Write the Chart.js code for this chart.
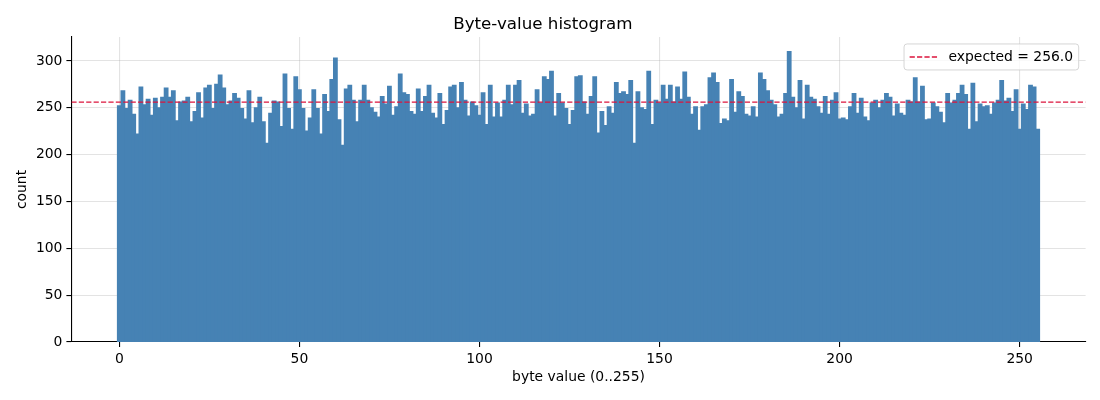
<!DOCTYPE html>
<html>
<head>
<meta charset="utf-8">
<script src="https://cdn.jsdelivr.net/npm/chart.js@4.4.1/dist/chart.umd.min.js"></script>
<style>
  html, body { margin: 0; padding: 0; background: #fff; }
  #c { display: block; }
</style>
</head>
<body>
<canvas id="c" width="1100" height="400"></canvas>
<script>
// ---- data ----
const chartTitle = "Byte-value histogram";
const xAxisTitle = "byte value (0..255)";
const yAxisTitle = "count";
const expectedLabel = "expected = 256.0";
const expectedValue = 256.0;

const byteValues = [];
for (let b = 0; b < 256; b++) byteValues.push(b);

const counts = [
  252,268,249,258,243,222,272,253,259,242,260,250,261,271,261,268,
  236,256,257,261,235,246,266,239,271,274,249,275,285,271,253,257,
  265,260,249,238,268,234,250,261,235,212,244,257,256,230,286,249,
  227,283,269,249,225,239,269,249,222,264,246,280,303,237,210,270,
  274,258,235,258,274,258,250,245,240,262,254,273,242,251,286,266,
  264,246,243,270,246,262,274,244,239,265,232,247,272,274,250,277,
  258,241,256,252,242,266,232,274,240,255,240,258,274,253,274,279,
  244,254,241,243,269,255,283,280,289,241,265,255,249,232,247,283,
  284,256,243,262,283,223,246,231,251,244,277,265,267,264,279,212,
  267,250,248,289,232,258,255,274,259,274,256,272,259,288,261,243,
  251,226,251,253,282,287,277,233,238,236,280,245,267,262,243,241,
  251,240,287,280,268,258,253,240,243,265,310,261,250,279,238,274,
  261,259,251,244,262,243,258,266,238,239,237,251,265,244,260,240,
  236,255,258,250,258,265,261,241,254,244,242,258,256,282,256,273,
  237,238,255,251,245,234,265,255,258,265,274,264,227,276,235,254,
  251,252,243,255,258,279,257,260,246,269,227,254,248,274,272,227
];

const xTicks = [0, 50, 100, 150, 200, 250];
const yTicks = [0, 50, 100, 150, 200, 250, 300];

// ---- styling ----
const FONT = '"DejaVu Sans", sans-serif';
const gridColor = 'rgba(176,176,176,0.35)';
const barColor = '#4682B4';
const lineColor = '#DC143C';
const xMin = -13.3, xMax = 268.3;
const yMin = 0, yMax = 325.5;

const mplLegend = {
  id: 'mplLegend',
  afterDraw(chart) {
    const ctx = chart.ctx, ca = chart.chartArea;
    const fs = 13.9;
    ctx.save();
    ctx.font = fs + 'px ' + FONT;
    const tw = ctx.measureText(expectedLabel).width;
    const pad = 5.6, hl = 27.8, htp = 11.1;
    const w = pad + hl + htp + tw + pad;
    const h = 26;
    const right = ca.right - 6.9;
    const top = ca.top + 6.9;
    const left = right - w;
    const r = 3;
    ctx.beginPath();
    ctx.moveTo(left + r, top);
    ctx.lineTo(right - r, top);
    ctx.arcTo(right, top, right, top + r, r);
    ctx.lineTo(right, top + h - r);
    ctx.arcTo(right, top + h, right - r, top + h, r);
    ctx.lineTo(left + r, top + h);
    ctx.arcTo(left, top + h, left, top + h - r, r);
    ctx.lineTo(left, top + r);
    ctx.arcTo(left, top, left + r, top, r);
    ctx.closePath();
    ctx.fillStyle = 'rgba(255,255,255,0.8)';
    ctx.fill();
    ctx.lineWidth = 1;
    ctx.strokeStyle = 'rgba(204,204,204,0.8)';
    ctx.stroke();
    const cy = top + h / 2;
    ctx.beginPath();
    ctx.setLineDash([5.2, 2.2]);
    ctx.strokeStyle = lineColor;
    ctx.lineWidth = 1.4;
    ctx.moveTo(left + pad, cy);
    ctx.lineTo(left + pad + hl, cy);
    ctx.stroke();
    ctx.setLineDash([]);
    ctx.fillStyle = '#000';
    ctx.textBaseline = 'middle';
    ctx.textAlign = 'left';
    ctx.fillText(expectedLabel, left + pad + hl + htp, cy + 0.5);
    ctx.restore();
  }
};

new Chart(document.getElementById('c'), {
  type: 'bar',
  data: {
    datasets: [
      {
        type: 'line',
        label: expectedLabel,
        data: [{ x: xMin, y: expectedValue }, { x: xMax, y: expectedValue }],
        borderColor: lineColor,
        borderWidth: 1.4,
        borderDash: [5.2, 2.2],
        pointRadius: 0,
        fill: false,
        order: 1
      },
      {
        type: 'bar',
        label: 'counts',
        data: byteValues.map((b, i) => ({ x: b, y: counts[i] })),
        backgroundColor: barColor,
        borderColor: barColor,
        borderWidth: 0,
        inflateAmount: 0.6,
        barPercentage: 1.0,
        categoryPercentage: 1.0,
        order: 2
      }
    ]
  },
  options: {
    responsive: false,
    animation: false,
    devicePixelRatio: 1,
    layout: { padding: { left: 0, right: 14.4, top: 0, bottom: 0 } },
    plugins: {
      legend: { display: false },
      tooltip: { enabled: false },
      title: {
        display: true,
        text: chartTitle,
        color: '#000',
        font: { family: FONT, size: 16.7, weight: 'normal', lineHeight: 1.2 },
        padding: { top: 15, bottom: 2 }
      }
    },
    scales: {
      x: {
        type: 'linear',
        min: xMin,
        max: xMax,
        offset: false,
        z: 1,
        afterBuildTicks: (s) => { s.ticks = xTicks.map(v => ({ value: v })); },
        afterFit: (s) => { s.height = 58; },
        grid: {
          offset: false,
          color: gridColor,
          lineWidth: 1.1,
          drawTicks: true,
          tickLength: 5,
          tickColor: '#000',
          tickWidth: 1.1
        },
        border: { display: true, color: '#000', width: 1.1 },
        ticks: {
          color: '#000',
          font: { family: FONT, size: 13.9 },
          padding: 4,
          maxRotation: 0,
          autoSkip: false
        },
        title: {
          display: true,
          text: xAxisTitle,
          color: '#000',
          font: { family: FONT, size: 13.9 },
          padding: { top: 0, bottom: 14.7 }
        }
      },
      y: {
        type: 'linear',
        min: yMin,
        max: yMax,
        z: 1,
        afterBuildTicks: (s) => { s.ticks = yTicks.map(v => ({ value: v })); },
        afterFit: (s) => { s.width = 71.4; },
        grid: {
          offset: false,
          color: (c) => (c.tick && c.tick.value === 0) ? 'rgba(0,0,0,0)' : gridColor,
          lineWidth: 1.1,
          drawTicks: true,
          tickLength: 5,
          tickColor: '#000',
          tickWidth: 1.1
        },
        border: { display: true, color: '#000', width: 1.1 },
        ticks: {
          color: '#000',
          font: { family: FONT, size: 13.9 },
          padding: 4,
          autoSkip: false
        },
        title: {
          display: true,
          text: yAxisTitle,
          color: '#000',
          font: { family: FONT, size: 13.9 },
          padding: { top: 13.7, bottom: 0 }
        }
      }
    }
  },
  plugins: [mplLegend]
});
</script>
</body>
</html>
